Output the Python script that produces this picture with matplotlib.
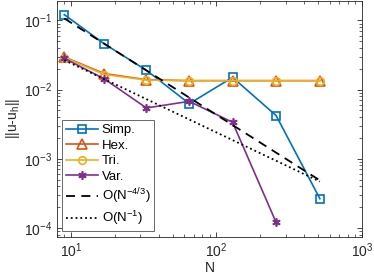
import numpy as np
import matplotlib
matplotlib.use('Agg')
import matplotlib.pyplot as plt

plt.rcParams['font.family'] = ['Liberation Sans', 'DejaVu Sans']
plt.rcParams['mathtext.fontset'] = 'custom'
plt.rcParams['mathtext.rm'] = 'Liberation Sans'
plt.rcParams['mathtext.it'] = 'Liberation Sans'

N = [9, 17, 33, 65, 129, 257, 513]
err_simp = [0.121, 0.0456, 0.019, 0.00625, 0.015, 0.0042, 0.000265]
err_hex = [0.0296, 0.017, 0.0139, 0.01346, 0.01346, 0.01346, 0.01346]
err_tri = [0.0290, 0.0165, 0.0137, 0.0134, 0.0134, 0.0134, 0.0134]
N_var = [9, 17, 33, 65, 129, 257]
err_var = [0.0283, 0.0142, 0.00542, 0.00676, 0.00336, 0.00012]
c_43 = 2.0
c_1 = 0.24

axc = '#262626'
fig = plt.figure(figsize=(3.74, 2.77), dpi=100)
ax = fig.add_axes([0.152, 0.146, 0.816, 0.85])

n = np.array(N, dtype=float)
ax.loglog(N, err_simp, '-s', color='#0072BD', lw=1.2, ms=5.5, mfc='none', mew=1.2, label='Simp.')
ax.loglog(N, err_hex, '-^', color='#D95319', lw=1.2, ms=6.5, mfc='none', mew=1.2, label='Hex.')
ax.loglog(N, err_tri, '-o', color='#EDB120', lw=1.2, ms=5.5, mfc='none', mew=1.2, label='Tri.')
ax.loglog(N_var, err_var, '-', marker=(6, 2, 0), color='#7E2F8E', lw=1.2, ms=6, mew=1.2, label='Var.')
ax.loglog(N, c_43 * n ** (-4 / 3), '--', color='black', lw=1.3, dashes=(5, 3.5), label=r'O(N$^{-4/3}$)')
ax.loglog(N, c_1 * n ** (-1.0), ':', color='black', lw=1.3, label=r'O(N$^{-1}$)')

ax.set_xlim(8, 1000)
ax.set_ylim(7.5e-5, 0.19)
ax.set_xlabel('N', fontsize=10, color=axc, labelpad=1)
ax.set_ylabel(r'||u-u$_\mathrm{h}$||', fontsize=10, color=axc, labelpad=1)

for s in ax.spines.values():
    s.set_color(axc)
    s.set_linewidth(0.6)
ax.tick_params(which='both', direction='in', top=True, right=True, colors=axc, labelsize=10)
ax.tick_params(which='major', length=3.5, width=0.6)
ax.tick_params(which='minor', length=2, width=0.5)

leg = ax.legend(loc='lower left', fontsize=9.5, frameon=True, fancybox=False,
                edgecolor='#262626', handlelength=2.4, handletextpad=0.3,
                borderpad=0.3, labelspacing=0.25, borderaxespad=0.4)
leg.get_frame().set_linewidth(0.6)

fig.savefig('out.png', dpi=100)
